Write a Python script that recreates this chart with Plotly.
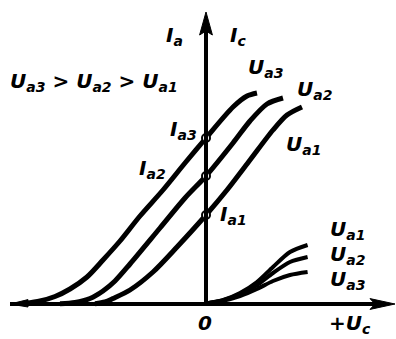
import plotly.graph_objects as go

# Grid voltage Uc (V) and anode current Ia (mA) for three anode voltages
uc_ua3 = [-9.05, -8.3, -7.55, -6.8, -5.95, -5.15, -4.3, -3.3, -2.15, -1.05, 0.0, 1.35, 2.05, 2.55]
ia_ua3 = [0.025, 0.15, 0.375, 0.75, 1.35, 2.2, 3.15, 4.4, 5.7, 7.05, 8.3, 9.85, 10.4, 10.55]

uc_ua2 = [-7.3, -6.55, -5.8, -5.15, -4.55, -3.8, -2.3, -1.05, 0.0, 1.35, 2.2, 3.05, 3.85]
ia_ua2 = [0.01, 0.075, 0.275, 0.65, 1.15, 2.0, 3.8, 5.3, 6.4, 8.05, 9.15, 10.0, 10.3]

uc_ua1 = [-5.55, -5.05, -4.65, -3.8, -2.65, -1.45, 0.0, 1.05, 2.2, 3.35, 4.05, 4.8]
ia_ua1 = [0.01, 0.1, 0.275, 0.7, 1.6, 2.85, 4.45, 5.7, 7.2, 8.7, 9.45, 9.85]

# Anode current at Uc = 0
ia_at_zero = [8.3, 6.4, 4.45]
ia_zero_labels = ["I<sub>a3</sub>", "I<sub>a2</sub>", "I<sub>a1</sub>"]

# Grid current Ic for positive grid voltage
uc_grid = [0.0, 0.8, 1.7, 2.55, 3.35, 4.2, 5.08]
ic_ua1 = [0.025, 0.175, 0.55, 1.1, 1.85, 2.6, 2.95]
ic_ua2 = [0.025, 0.175, 0.5, 0.95, 1.55, 2.1, 2.35]
ic_ua3 = [0.025, 0.15, 0.4, 0.75, 1.15, 1.45, 1.6]

# Axis extents
x_min, x_max = -10.3, 9.5
y_min, y_max = -1.75, 15.2
x_axis_left, x_axis_tip = -9.8, 9.45
y_axis_tip = 14.6

ink = "black"
fig = go.Figure()

for xs, ys in [(uc_ua3, ia_ua3), (uc_ua2, ia_ua2), (uc_ua1, ia_ua1)]:
    fig.add_trace(go.Scatter(x=xs, y=ys, mode="lines",
                             line=dict(color=ink, width=5, shape="spline", smoothing=0.8),
                             hoverinfo="skip", showlegend=False))

for ys in [ic_ua1, ic_ua2, ic_ua3]:
    fig.add_trace(go.Scatter(x=uc_grid, y=ys, mode="lines",
                             line=dict(color=ink, width=4, shape="spline", smoothing=0.8),
                             hoverinfo="skip", showlegend=False))

# Axes drawn as lines with slender arrowheads
shapes = [
    dict(type="line", x0=x_axis_left, y0=0, x1=x_axis_tip - 0.6, y1=0,
         line=dict(color=ink, width=4)),
    dict(type="line", x0=0, y0=0, x1=0, y1=y_axis_tip - 0.6,
         line=dict(color=ink, width=4)),
]
head_len_x, head_half_x = 1.25, 0.27
shapes.append(dict(type="path", fillcolor=ink, line=dict(color=ink, width=1),
                   path=f"M{x_axis_tip},0 L{x_axis_tip - head_len_x},{head_half_x} "
                        f"L{x_axis_tip - head_len_x + 0.25},0 L{x_axis_tip - head_len_x},{-head_half_x} Z"))
head_len_y, head_half_y = 1.15, 0.32
shapes.append(dict(type="path", fillcolor=ink, line=dict(color=ink, width=1),
                   path=f"M0,{y_axis_tip} L{-head_half_y},{y_axis_tip - head_len_y} "
                        f"L0,{y_axis_tip - head_len_y + 0.2} L{head_half_y},{y_axis_tip - head_len_y} Z"))
shapes.append(dict(type="path", fillcolor=ink, line=dict(color=ink, width=1),
                   path=f"M{x_axis_left},0 L{x_axis_left + 0.9},0.22 L{x_axis_left + 0.9},-0.15 Z"))

# Operating points on the current axis
fig.add_trace(go.Scatter(x=[0] * len(ia_at_zero), y=ia_at_zero, mode="markers",
                         marker=dict(size=8, color="white", line=dict(color=ink, width=2)),
                         hoverinfo="skip", showlegend=False))

fnt = dict(family="DejaVu Sans", size=20, color=ink, weight="bold", style="italic")
labels = [
    (-1.6, 13.4, "I<sub>a</sub>"),
    (1.6, 13.4, "I<sub>c</sub>"),
    (-5.6, 11.1, "U<sub>a3</sub> &gt; U<sub>a2</sub> &gt; U<sub>a1</sub>"),
    (2.95, 11.8, "U<sub>a3</sub>"),
    (5.4, 10.7, "U<sub>a2</sub>"),
    (4.85, 7.95, "U<sub>a1</sub>"),
    (-1.15, 8.7, ia_zero_labels[0]),
    (-2.7, 6.75, ia_zero_labels[1]),
    (1.35, 4.45, ia_zero_labels[2]),
    (7.05, 3.7, "U<sub>a1</sub>"),
    (7.05, 2.45, "U<sub>a2</sub>"),
    (7.05, 1.2, "U<sub>a3</sub>"),
    (-0.05, -0.95, "0"),
    (7.2, -1.0, "+U<sub>c</sub>"),
]
annotations = [dict(x=x, y=y, text=t, showarrow=False, font=fnt,
                    xanchor="center", yanchor="middle") for x, y, t in labels]

fig.update_layout(
    width=396, height=339,
    margin=dict(l=0, r=0, t=0, b=0),
    paper_bgcolor="white", plot_bgcolor="white",
    xaxis=dict(range=[x_min, x_max], visible=False, fixedrange=True),
    yaxis=dict(range=[y_min, y_max], visible=False, fixedrange=True),
    shapes=shapes, annotations=annotations,
)

fig.write_html("out.html")
